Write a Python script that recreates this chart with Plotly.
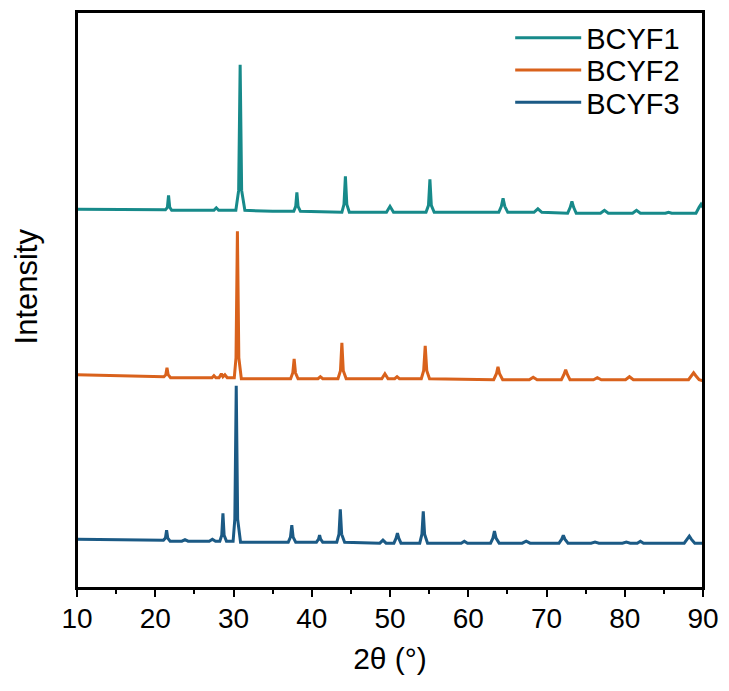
import plotly.graph_objects as go

# Series data: 2-theta (deg) and intensity (a.u., relative to each pattern's baseline)
BCYF1_X = [10, 15, 20, 21.3, 21.55, 21.7, 21.85, 22.1, 25, 27.5, 27.8, 28.1, 30.3, 30.66, 30.85, 31.04, 31.45,
           35, 37.7, 37.95, 38.1, 38.25, 38.55, 42, 43.85, 44.12, 44.3, 44.48, 44.8, 49.55, 50.0, 50.45,
           54.6, 54.92, 55.1, 55.28, 55.65, 60, 63.9, 64.23, 64.45, 64.67, 65.05, 68.4, 68.9, 69.4,
           72.7, 73.03, 73.25, 73.47, 73.8, 76.9, 77.4, 77.9, 81.0, 81.5, 82.0, 85.2, 85.6, 86.0,
           89.1, 89.5, 89.75, 90]
BCYF1_Y = [1, 1, 0.5, 0.5, 3, 15, 3, 0, 0, 0, 2.5, 0, 0, 20, 146, 20, 0,
           -1, -1, 4, 18, 4, -1, -2, -2, 6, 34, 6, -2, -2, 4, -2,
           -2, 5, 31, 5, -2, -2, -2, 4, 12, 4, -2, -2, 1.5, -2,
           -3, 3, 9, 3, -3, -3, 0, -3, -3, 0, -3, -3, -2, -3,
           -3, 3, 6, 3]

BCYF2_X = [10, 15, 20, 21.1, 21.35, 21.5, 21.65, 21.95, 25, 27.25, 27.5, 27.75, 28.15, 28.45, 28.65, 28.9, 29.2,
           30.1, 30.32, 30.5, 30.68, 31.0, 35, 37.3, 37.58, 37.75, 37.92, 38.25, 40.8, 41.1, 41.4,
           43.35, 43.67, 43.85, 44.03, 44.4, 48.95, 49.35, 49.75, 50.6, 50.9, 51.2,
           54.0, 54.3, 54.5, 54.7, 55.05, 60, 63.25, 63.6, 63.8, 64.0, 64.4, 67.8, 68.3, 68.8,
           71.9, 72.22, 72.45, 72.68, 73.0, 76.0, 76.5, 77.0, 80.1, 80.6, 81.1,
           88.15, 88.52, 88.8, 89.08, 89.5, 90]
BCYF2_Y = [3, 2, 1, 1, 3, 10, 3, 0, 0, 0, 2, 0, 0, 4, 1, 3, 0,
           0, 20, 147, 20, -1, -1, -1, 5, 19, 5, -1, -1, 1, -1,
           -1, 7, 35, 7, -1, -1, 4, -1, -1, 1, -1,
           -1, 7, 32, 7, -1, -2, -2, 4, 11, 4, -2, -2, 0.5, -2,
           -2, 3, 8, 3, -2, -2, 0, -2, -2, 1, -2,
           -2, 2, 5, 2, -2, -3]

BCYF3_X = [10, 15, 20, 21.05, 21.3, 21.45, 21.6, 21.9, 23.4, 23.8, 24.2, 26.9, 27.3, 27.7,
           28.25, 28.5, 28.65, 28.8, 29.1, 29.95, 30.17, 30.35, 30.53, 30.9, 35,
           37.0, 37.28, 37.45, 37.62, 37.95, 40.6, 40.87, 41.0, 41.13, 41.4,
           43.2, 43.48, 43.65, 43.82, 44.2, 48.7, 49.1, 49.5, 50.5, 50.78, 50.95, 51.12, 51.4,
           53.8, 54.08, 54.25, 54.42, 54.8, 59.1, 59.5, 59.9, 62.85, 63.15, 63.35, 63.55, 63.95,
           66.9, 67.4, 67.9, 71.6, 71.95, 72.15, 72.35, 72.75, 75.7, 76.2, 76.7, 79.7, 80.2, 80.7,
           81.6, 82.0, 82.4, 87.6, 88.0, 88.25, 88.5, 88.95, 90]
BCYF3_Y = [2, 1.5, 1, 1, 3, 11, 3, 0, 0, 1.5, 0, 0, 2, 0,
           0, 6, 28, 6, 0, 0, 22, 156, 22, -1, -1,
           -1, 4, 16, 4, -1, -1, 2, 6, 2, -1,
           -1, 7, 32, 7, -1, -2, 1, -2, -2, 3, 8, 3, -2,
           -2, 7, 30, 7, -2, -2, 0, -2, -2, 3, 10, 3, -2,
           -2, 0, -2, -2, 2, 6, 2, -2, -2, -1, -2, -2, -1, -2,
           -2, 0, -2, -2, 2, 5, 2, -2, -2]

NAMES = ["BCYF1", "BCYF2", "BCYF3"]
OFFSETS = [379, 211, 47]
COLORS = ["#178a8a", "#d9621c", "#1b5a85"]
LEGEND_IDS = ["legend", "legend2", "legend3"]
LEGEND_Y = [0.955, 0.899, 0.843]
X_TICKS = [10, 20, 30, 40, 50, 60, 70, 80, 90]

assert len(BCYF1_X) == len(BCYF1_Y)
assert len(BCYF2_X) == len(BCYF2_Y)
assert len(BCYF3_X) == len(BCYF3_Y)

series = [(BCYF1_X, BCYF1_Y), (BCYF2_X, BCYF2_Y), (BCYF3_X, BCYF3_Y)]

FONT = "Liberation Sans, Arial, sans-serif"

fig = go.Figure()
for (xs, ys), name, off, col, lg in zip(series, NAMES, OFFSETS, COLORS, LEGEND_IDS):
    fig.add_trace(go.Scatter(
        x=xs, y=[v + off for v in ys], mode="lines", name=name,
        line=dict(color=col, width=3), legend=lg,
    ))

legend_style = dict(x=0.692, xanchor="left", yanchor="middle",
                    bgcolor="rgba(0,0,0,0)", font=dict(size=29, family=FONT, color="black"),
                    itemwidth=66)
fig.update_layout(
    width=729, height=691,
    margin=dict(l=77, r=22, t=10, b=103),
    paper_bgcolor="white", plot_bgcolor="white",
    font=dict(family=FONT, color="black", size=28),
    showlegend=True,
    legend=dict(y=LEGEND_Y[0], **legend_style),
    legend2=dict(y=LEGEND_Y[1], **legend_style),
    legend3=dict(y=LEGEND_Y[2], **legend_style),
    shapes=[dict(type="rect", xref="paper", yref="paper", x0=0, y0=0, x1=1, y1=1,
                 line=dict(color="black", width=2), fillcolor="rgba(0,0,0,0)", layer="above")],
    annotations=[dict(text="Intensity", textangle=-90, xref="paper", yref="paper",
                      x=-0.081, y=0.524, xanchor="center", yanchor="middle", showarrow=False,
                      font=dict(size=31, family=FONT, color="black"))],
)
fig.update_xaxes(
    range=[10, 90], tickvals=X_TICKS, ticktext=[str(t) for t in X_TICKS],
    showline=True, linecolor="black", linewidth=2, mirror=True,
    ticks="outside", ticklen=7, tickwidth=2, tickcolor="black",
    minor=dict(dtick=5, ticks="outside", ticklen=4, tickwidth=2, tickcolor="black", tick0=5),
    showgrid=False, zeroline=False,
    tickfont=dict(size=28, family=FONT), ticklabelstandoff=-3,
    title=dict(text="2θ (°)", font=dict(size=30, family=FONT), standoff=15),
)
fig.update_yaxes(
    range=[0, 578], showticklabels=False, ticks="",
    showline=True, linecolor="black", linewidth=2, mirror=True,
    showgrid=False, zeroline=False,
)

fig.write_html("out.html")
